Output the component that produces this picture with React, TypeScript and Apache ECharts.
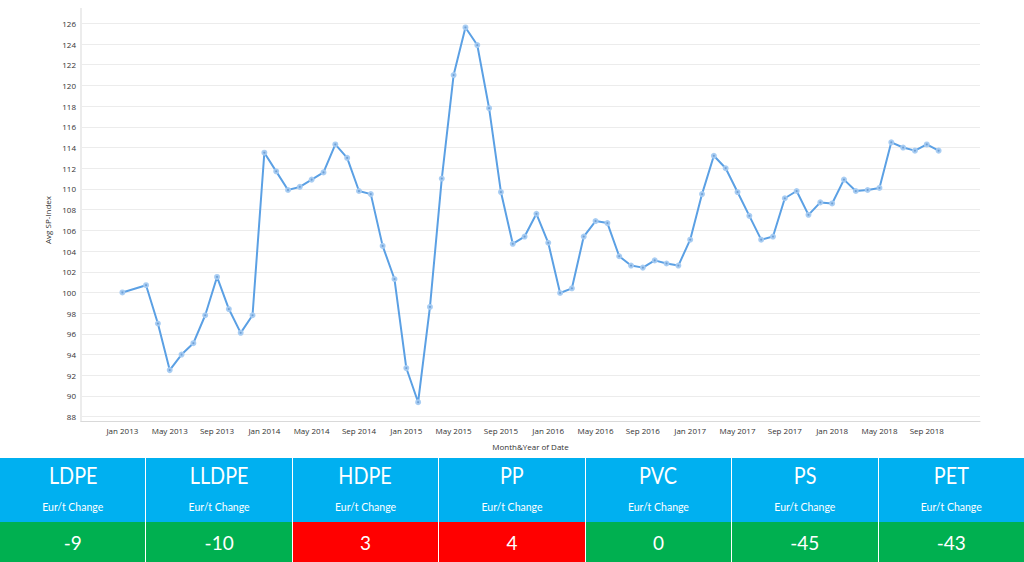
import React, { useEffect, useRef } from "react";
import * as echarts from "echarts";

const months: string[] = [
  "Jan 2013", "Feb 2013", "Mar 2013", "Apr 2013", "May 2013", "Jun 2013", "Jul 2013", "Aug 2013", "Sep 2013", "Oct 2013", "Nov 2013", "Dec 2013",
  "Jan 2014", "Feb 2014", "Mar 2014", "Apr 2014", "May 2014", "Jun 2014", "Jul 2014", "Aug 2014", "Sep 2014", "Oct 2014", "Nov 2014", "Dec 2014",
  "Jan 2015", "Feb 2015", "Mar 2015", "Apr 2015", "May 2015", "Jun 2015", "Jul 2015", "Aug 2015", "Sep 2015", "Oct 2015", "Nov 2015", "Dec 2015",
  "Jan 2016", "Feb 2016", "Mar 2016", "Apr 2016", "May 2016", "Jun 2016", "Jul 2016", "Aug 2016", "Sep 2016", "Oct 2016", "Nov 2016", "Dec 2016",
  "Jan 2017", "Feb 2017", "Mar 2017", "Apr 2017", "May 2017", "Jun 2017", "Jul 2017", "Aug 2017", "Sep 2017", "Oct 2017", "Nov 2017", "Dec 2017",
  "Jan 2018", "Feb 2018", "Mar 2018", "Apr 2018", "May 2018", "Jun 2018", "Jul 2018", "Aug 2018", "Sep 2018", "Oct 2018",
];

const spIndex: (number | null)[] = [
  100.0, null, 100.7, 97.0, 92.5, 94.0, 95.1, 97.8, 101.5, 98.4, 96.1, 97.8,
  113.5, 111.7, 109.9, 110.2, 110.9, 111.6, 114.3, 113.0, 109.8, 109.5, 104.5, 101.3,
  92.7, 89.4, 98.6, 111.0, 121.0, 125.6, 123.9, 117.8, 109.7, 104.7, 105.4, 107.6,
  104.8, 99.95, 100.4, 105.4, 106.9, 106.7, 103.5, 102.6, 102.4, 103.1, 102.8, 102.6,
  105.1, 109.5, 113.2, 112.0, 109.7, 107.4, 105.1, 105.4, 109.1, 109.8, 107.5, 108.7,
  108.6, 110.9, 109.8, 109.9, 110.1, 114.5, 114.0, 113.7, 114.3, 113.7,
];

const yTicks = { min: 88, max: 126, step: 2 };

const materials: string[] = ["LDPE", "LLDPE", "HDPE", "PP", "PVC", "PS", "PET"];
const changes: number[] = [-9, -10, 3, 4, 0, -45, -43];
const subLabel = "Eur/t Change";

const PAD = 3;

function Chart() {
  const ref = useRef<HTMLDivElement>(null);
  useEffect(() => {
    if (!ref.current) return;
    const chart = echarts.init(ref.current, null, { renderer: "svg" });
    const pad = new Array(PAD).fill("");
    const cats = [...pad, ...months, ...pad];
    const data = [...new Array(PAD).fill(null), ...spIndex];
    const font = "'Open Sans', 'Noto Sans', sans-serif";
    chart.setOption({
      animation: false,
      grid: {
        left: 81,
        right: 44,
        top: 23.3,
        bottom: 41.3,
        outerBoundsMode: "none",
      },
      xAxis: {
        type: "category",
        data: cats,
        boundaryGap: true,
        offset: 5,
        name: "Month&Year of Date",
        nameLocation: "middle",
        nameGap: 21,
        nameTextStyle: { color: "#333", fontSize: 8, fontFamily: font },
        axisLine: { show: true, lineStyle: { color: "#d9d9d9", width: 1 } },
        axisTick: { show: false },
        splitLine: { show: false },
        axisLabel: {
          color: "#333",
          fontSize: 8,
          fontFamily: font,
          margin: 5,
          interval: (index: number, value: string) =>
            value !== "" && (index - PAD) % 4 === 0,
        },
      },
      yAxis: {
        type: "value",
        min: yTicks.min,
        max: yTicks.max,
        interval: yTicks.step,
        name: "Avg SP-Index",
        nameLocation: "middle",
        nameGap: 22,
        nameRotate: 90,
        nameTextStyle: { color: "#333", fontSize: 8, fontFamily: font },
        axisLine: { show: false },
        axisTick: { show: false },
        axisLabel: { color: "#333", fontSize: 8, fontFamily: font, margin: 5 },
        splitLine: { show: true, lineStyle: { color: "#ececec", width: 1 } },
      },
      graphic: [
        {
          type: "line",
          shape: { x1: 81, y1: 8, x2: 81, y2: 422 },
          style: { stroke: "#d9d9d9", lineWidth: 1 },
          silent: true,
        },
      ],
      series: [
        {
          type: "line",
          data,
          connectNulls: true,
          symbol: "circle",
          symbolSize: 4,
          showSymbol: true,
          lineStyle: { color: "#5ba0e4", width: 2 },
          itemStyle: {
            color: "#6f9fd4",
            borderColor: "rgba(165,203,242,0.95)",
            borderWidth: 2,
          },
        },
      ],
    });
    return () => chart.dispose();
  }, []);
  return <div ref={ref} style={{ width: 1024, height: 458 }} />;
}

export default function App() {
  const font = "Lato, 'Open Sans', sans-serif";
  return (
    <div
      style={{
        position: "fixed",
        left: 0,
        top: 0,
        width: 1024,
        height: 562,
        background: "#fff",
        overflow: "hidden",
      }}
    >
      <Chart />
      <div style={{ display: "flex", width: 1024, height: 104 }}>
        {materials.map((m, i) => (
          <div
            key={m}
            style={{
              flex: 1,
              display: "flex",
              flexDirection: "column",
              borderLeft: i === 0 ? "none" : "1.5px solid #fff",
              fontFamily: font,
              color: "#fff",
              textAlign: "center",
            }}
          >
            <div
              style={{
                height: 64,
                background: "#00b0f0",
                display: "flex",
                flexDirection: "column",
                alignItems: "center",
              }}
            >
              <div
                style={{
                  fontSize: 23,
                  lineHeight: "23px",
                  marginTop: 5.5,
                  transform: "scaleX(0.86)",
                }}
              >
                {m}
              </div>
              <div style={{ fontSize: 10.5, lineHeight: "10.5px", marginTop: 15 }}>
                {subLabel}
              </div>
            </div>
            <div
              style={{
                height: 40,
                boxSizing: "border-box",
                background: changes[i] > 0 ? "#ff0000" : "#00b050",
                fontSize: 19,
                lineHeight: "19px",
                paddingTop: 11,
              }}
            >
              {changes[i]}
            </div>
          </div>
        ))}
      </div>
    </div>
  );
}
